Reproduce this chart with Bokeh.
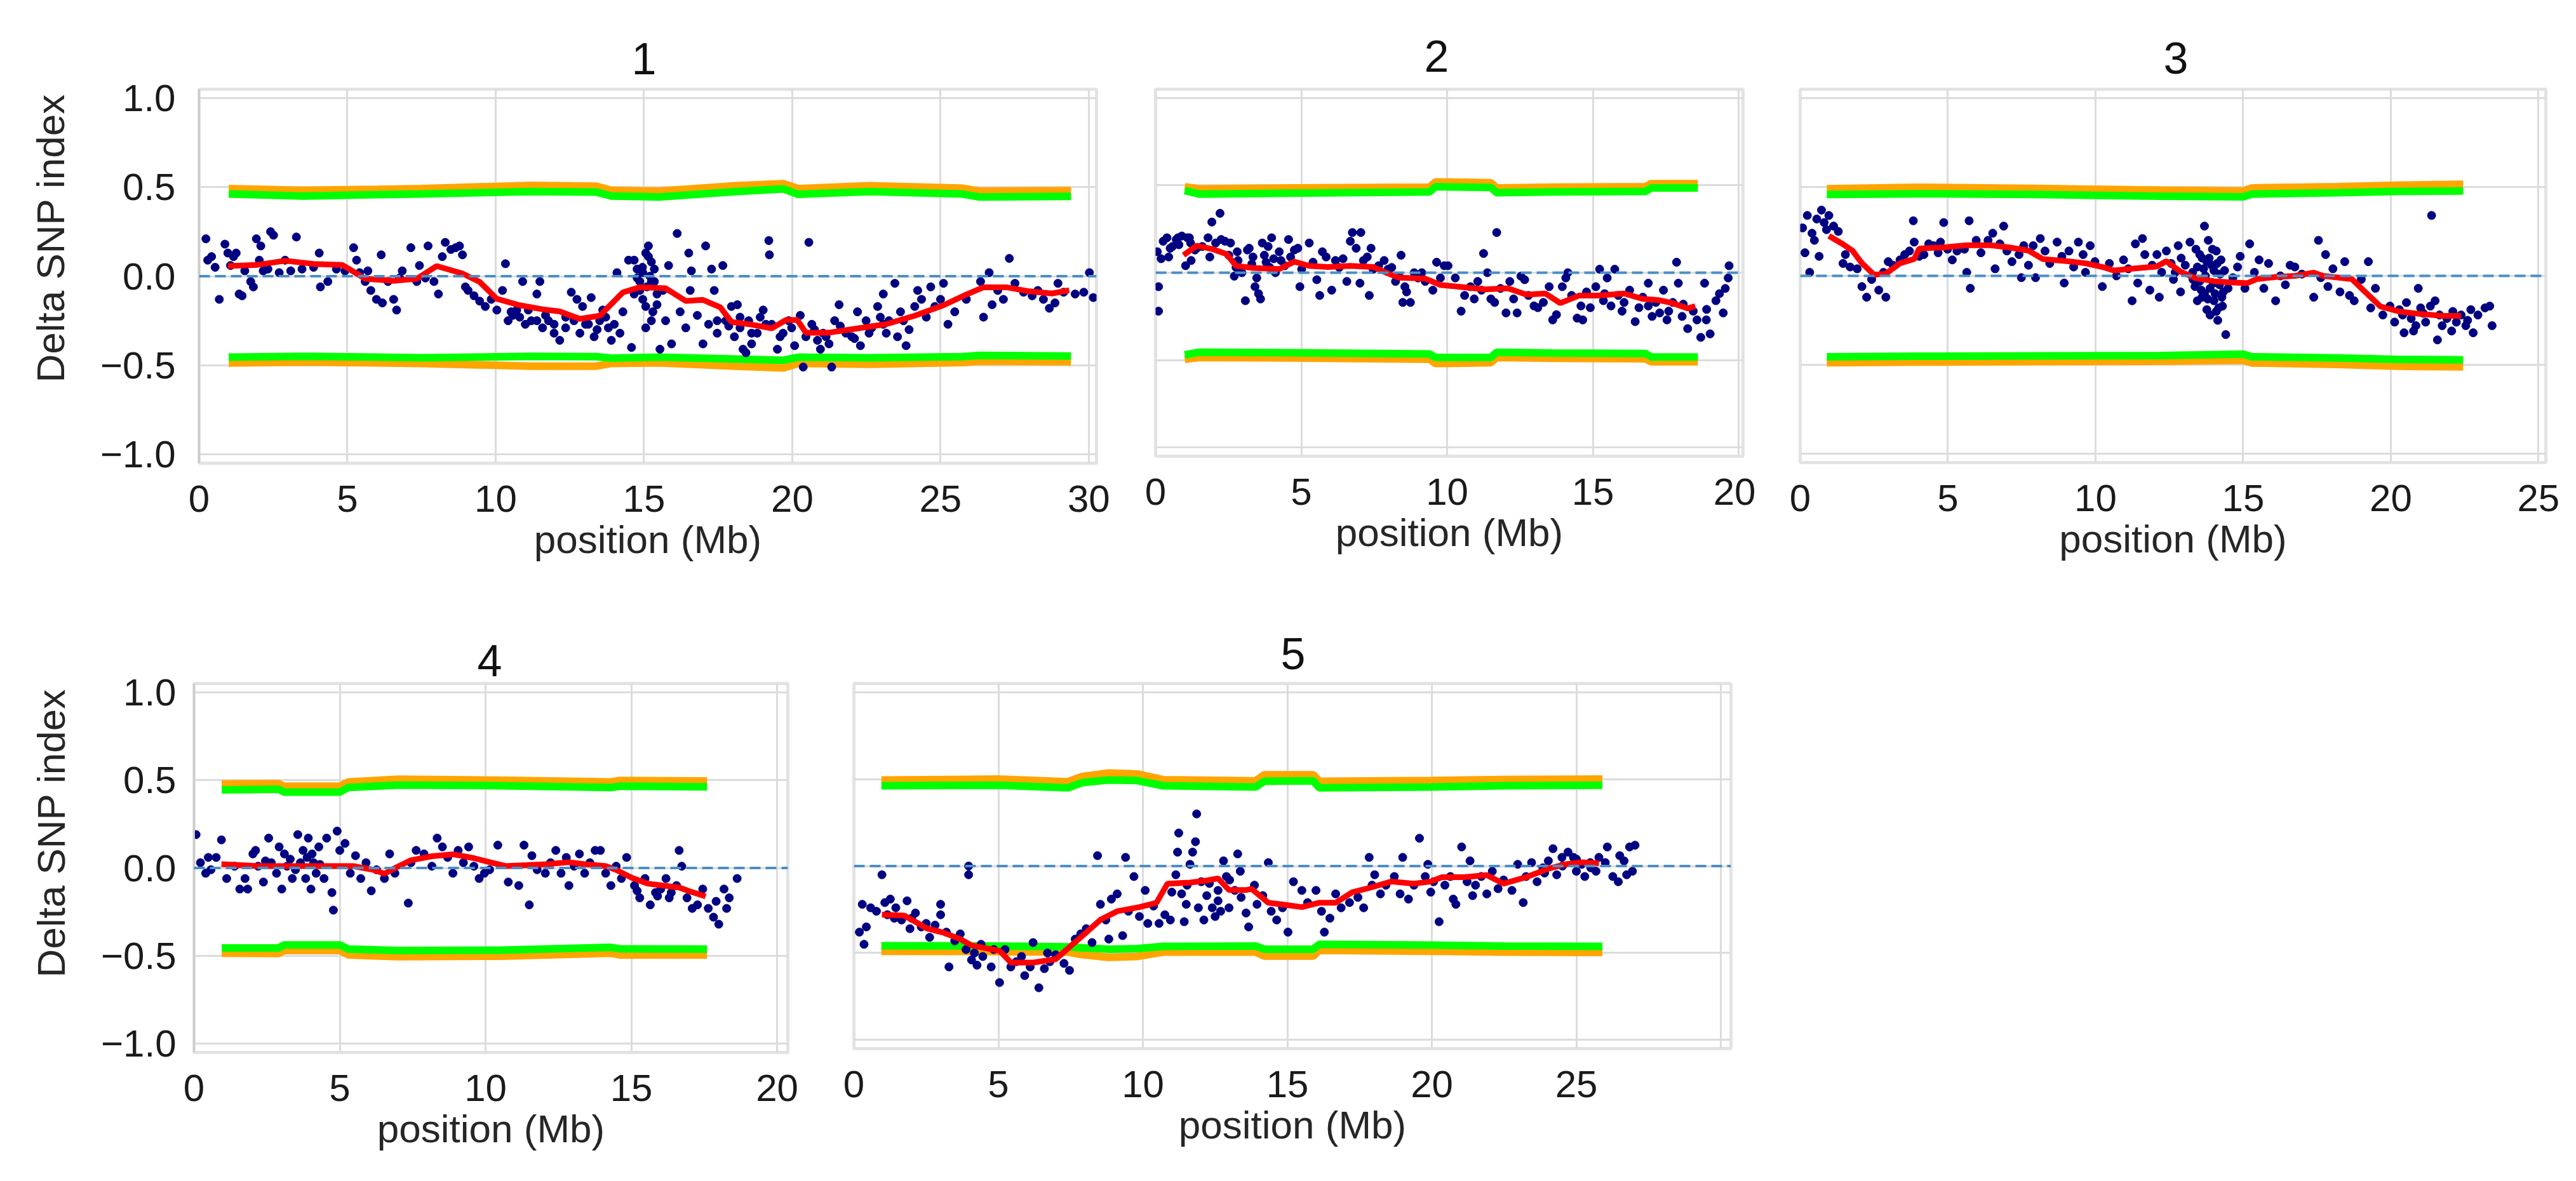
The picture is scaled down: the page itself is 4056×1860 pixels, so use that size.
# -*- coding: utf-8 -*-
# Delta SNP index along the five chromosomes, with 95% / 99% thresholds
from bokeh.plotting import figure
from bokeh.layouts import row, column
from bokeh.models import Span, FixedTicker, CustomJSTickFormatter, Title
from bokeh.embed import file_html
from bokeh.resources import INLINE

FONT = "Liberation Sans"

# ---------------- data: (position Mb, delta SNP index) ----------------
snp1 = [(0.23,0.21),(0.29,0.09),(0.42,0.11),(0.54,0.05),(0.68,-0.13),(0.87,0.18),(0.97,0.13),(1.06,0.06),
        (1.16,0.11),(1.25,0.13),(1.35,-0.10),(1.45,-0.11),(1.54,0.03),(1.74,-0.03),(1.83,-0.06),(1.93,0.21),
        (2.03,0.09),(2.08,0.17),(2.16,0.03),(2.32,0.04),(2.41,0.25),(2.51,0.23),(2.70,0.02),(2.90,0.09),
        (3.09,0.03),(3.28,0.22),(3.47,0.04),(3.86,0.05),(4.05,0.13),(4.09,-0.06),(4.34,-0.03),(4.63,0.04),
        (4.92,0.03),(5.21,0.16),(5.31,0.09),(5.41,0.02),(5.60,-0.03),(5.69,0.03),(5.79,-0.08),(5.98,-0.13),
        (6.14,0.12),(6.18,-0.15),(6.37,-0.03),(6.56,-0.13),(6.66,-0.19),(6.76,-0.01),(6.85,0.03),(7.14,0.16),
        (7.34,-0.03),(7.43,0.06),(7.63,-0.01),(7.72,0.17),(7.92,-0.03),(8.07,-0.10),(8.20,0.11),(8.30,0.19),
        (8.49,0.15),(8.65,0.16),(8.78,0.17),(8.88,0.12),(8.98,-0.06),(9.07,-0.08),(9.27,-0.11),(9.46,-0.14),
        (9.65,-0.17),(9.85,-0.13),(10.04,-0.19),(10.23,-0.08),(10.33,0.07),(10.42,-0.25),(10.58,-0.22),
        (10.71,-0.19),(10.91,-0.03),(11.00,-0.27),(11.20,-0.25),(11.39,-0.10),(11.49,-0.03),(11.58,-0.29),
        (11.78,-0.25),(11.97,-0.32),(12.16,-0.36),(12.36,-0.23),(12.55,-0.09),(12.74,-0.13),(12.84,-0.32),
        (12.93,-0.17),(13.03,-0.27),(13.22,-0.12),(13.32,-0.34),(13.51,-0.25),(13.61,-0.19),(13.80,-0.29),
        (13.90,-0.36),(14.09,0.02),(14.19,-0.32),(14.29,-0.20),(14.48,0.09),(14.58,-0.40),(14.67,-0.10),
        (14.77,0.04),(14.86,-0.03),(14.96,-0.13),(15.06,0.13),(15.15,0.17),(15.25,0.08),(15.35,-0.03),
        (15.44,-0.16),(15.54,-0.41),(15.64,-0.08),(15.73,-0.25),(15.83,0.06),(15.93,-0.38),(15.10,-0.06),
        (15.20,0.00),(14.95,0.05),(15.30,-0.20),(16.12,0.24),(16.22,-0.20),(16.41,-0.29),(16.51,0.13),
        (16.56,-0.08),(16.60,0.03),(16.80,-0.22),(16.99,-0.38),(17.08,0.17),(17.18,-0.27),(17.28,0.04),
        (17.37,-0.08),(17.47,-0.32),(17.66,0.06),(17.76,-0.25),(17.95,-0.17),(18.05,-0.34),(18.15,-0.16),
        (18.24,-0.29),(18.34,-0.41),(18.44,-0.43),(18.53,-0.25),(18.63,-0.38),(18.82,-0.32),(18.92,-0.23),
        (19.02,-0.19),(19.21,0.20),(19.23,0.12),(19.31,-0.27),(19.50,-0.41),(19.69,-0.32),(19.88,-0.25),
        (20.08,-0.39),(20.27,-0.22),(20.37,-0.51),(20.46,-0.34),(20.56,0.19),(20.66,-0.27),(20.85,-0.36),
        (20.95,-0.41),(21.04,-0.32),(21.24,-0.38),(21.33,-0.51),(21.43,-0.25),(21.58,-0.16),(21.81,-0.32),
        (22.01,-0.34),(22.20,-0.20),(22.30,-0.39),(22.49,-0.25),(22.68,-0.29),(22.88,-0.17),(22.97,-0.23),
        (23.07,-0.10),(23.17,-0.32),(23.26,-0.25),(23.46,-0.04),(23.55,-0.34),(23.65,-0.20),(23.84,-0.39),
        (23.94,-0.30),(24.13,-0.17),(24.23,-0.08),(24.36,-0.13),(24.52,-0.23),(24.67,-0.06),(24.81,-0.17),
        (25.00,-0.13),(25.10,-0.04),(25.25,-0.27),(25.48,-0.20),(25.87,-0.13),(26.35,-0.03),(26.45,-0.23),
        (26.64,0.02),(26.74,-0.16),(26.93,-0.08),(27.12,-0.13),(27.32,0.10),(27.51,-0.04),(27.80,-0.09),
        (28.09,-0.11),(28.28,-0.08),(28.47,-0.13),(28.67,-0.18),(28.86,-0.15),(28.96,-0.04),(29.15,-0.09),
        (29.54,-0.10),(29.83,-0.09),(30.02,0.02),(30.15,-0.12),
        (14.67,0.09),(14.77,-0.01),(14.86,-0.08),(14.96,0.02),(15.06,-0.17),(15.15,0.11),(15.25,-0.03),
        (15.35,0.04),(15.44,-0.10),(15.25,-0.25),(15.06,-0.29),(10.52,-0.20),(10.81,-0.23),(11.10,-0.19),
        (11.39,-0.25),(11.68,-0.22),(11.97,-0.27),(12.36,-0.29),(12.64,-0.25),(13.13,-0.27),(13.42,-0.30),
        (13.71,-0.23),(14.00,-0.27),(17.47,-0.25),(17.86,-0.28),(18.24,-0.23),(18.63,-0.32),(19.11,-0.27),
        (19.59,-0.34),(19.98,-0.29),(20.75,-0.30),(21.14,-0.34),(21.62,-0.28),(22.10,-0.35),(22.59,-0.32),
        (23.07,-0.27),(23.75,-0.25)]

snp2 = [(0.06,0.12),(0.10,-0.08),(0.10,-0.22),(0.19,0.08),(0.26,0.18),(0.39,0.20),(0.45,0.09),(0.58,0.15),
        (0.71,0.19),(0.77,0.20),(0.90,0.21),(1.03,0.04),(1.09,0.20),(1.16,0.20),(1.22,0.07),(1.35,0.13),
        (1.41,0.14),(1.80,0.20),(1.86,0.09),(1.93,0.29),(2.06,0.17),(2.21,0.34),(2.25,0.19),(2.38,0.18),
        (2.51,0.10),(2.57,0.17),(2.70,-0.02),(2.76,0.03),(2.83,0.07),(2.96,0.00),(3.08,-0.16),(3.15,0.13),
        (3.21,0.14),(3.34,0.09),(3.41,-0.08),(3.47,-0.03),(3.53,-0.12),(3.60,-0.15),(3.66,0.17),(3.73,0.10),
        (3.79,0.06),(3.86,0.15),(3.92,0.03),(3.98,0.20),(4.05,0.08),(4.11,0.00),(4.24,0.12),(4.43,0.04),
        (4.56,0.19),(4.63,0.09),(4.76,0.13),(4.88,0.14),(4.95,-0.08),(5.01,0.02),(5.27,0.17),(5.40,0.06),
        (5.53,-0.04),(5.63,-0.13),(5.72,0.12),(5.85,0.09),(6.04,-0.10),(6.17,0.07),(6.30,0.03),(6.43,0.08),
        (6.56,-0.05),(6.68,0.18),(6.75,0.23),(6.88,0.14),(7.01,-0.06),(7.04,0.23),(7.13,0.07),(7.26,0.09),
        (7.33,-0.13),(7.39,0.14),(7.46,0.02),(7.65,0.04),(7.84,0.07),(7.97,0.02),(8.10,0.03),(8.23,-0.05),
        (8.35,-0.02),(8.42,0.10),(8.48,-0.17),(8.55,-0.08),(8.61,-0.11),(8.74,-0.17),(8.87,0.00),(9.00,-0.03),
        (9.13,0.00),(9.25,-0.05),(9.51,-0.10),(9.64,0.06),(9.77,-0.03),(9.90,0.04),(10.03,0.04),(10.28,-0.03),
        (10.48,-0.22),(10.60,-0.13),(10.80,-0.08),(10.93,-0.15),(11.05,-0.05),(11.18,-0.10),(11.25,0.11),
        (11.38,0.00),(11.50,-0.15),(11.63,-0.17),(11.70,0.23),(11.83,-0.09),(12.02,-0.23),(12.15,-0.05),
        (12.28,-0.15),(12.40,-0.23),(12.53,-0.02),(12.66,-0.04),(12.79,-0.13),(12.98,-0.19),(13.11,-0.20),
        (13.30,-0.17),(13.50,-0.08),(13.62,-0.27),(13.75,-0.24),(13.95,-0.08),(14.07,-0.03),(14.14,0.00),
        (14.27,-0.13),(14.46,-0.26),(14.59,-0.19),(14.65,-0.27),(14.78,-0.11),(14.91,-0.20),(15.10,-0.08),
        (15.23,0.02),(15.36,-0.16),(15.49,-0.03),(15.62,-0.19),(15.75,0.02),(15.87,-0.13),(16.07,-0.17),
        (16.26,-0.10),(16.45,-0.28),(16.58,-0.20),(16.71,-0.14),(16.90,-0.06),(17.03,-0.25),(17.16,-0.17),
        (17.29,-0.23),(17.42,-0.10),(17.54,-0.27),(17.74,-0.17),(17.87,0.06),(17.93,-0.06),(18.06,-0.25),
        (18.25,-0.32),(18.44,-0.22),(18.57,-0.27),(18.70,-0.37),(18.83,-0.06),(18.89,-0.27),(19.02,-0.35),
        (19.22,-0.16),(19.34,-0.12),(19.47,-0.23),(19.54,-0.09),(19.64,-0.03),(19.67,0.04),
        (0.50,0.14),(0.80,0.16),(1.20,0.17),(1.60,0.15),(2.80,0.12),(3.30,0.05),(4.30,0.07),(15.40,-0.12),
        (16.00,-0.22),(16.90,-0.19),(17.60,-0.22),(18.10,-0.18),(18.90,-0.21)]

snp3 = [(0.08,0.27),(0.16,0.13),(0.24,0.34),(0.32,0.02),(0.40,0.24),(0.48,0.20),(0.56,0.32),(0.64,0.11),
        (0.72,0.37),(0.81,0.30),(0.89,0.26),(0.97,0.34),(1.13,0.28),(1.29,0.25),(1.45,0.07),(1.53,0.12),
        (1.69,0.05),(1.93,0.04),(2.09,-0.06),(2.25,-0.12),(2.42,-0.02),(2.66,-0.08),(2.82,0.02),(2.90,-0.12),
        (2.98,0.08),(3.14,0.06),(3.38,0.09),(3.54,0.12),(3.70,0.14),(3.83,0.31),(3.86,0.19),(4.03,0.11),
        (4.19,0.12),(4.35,0.18),(4.51,0.17),(4.67,0.13),(4.75,0.19),(4.86,0.30),(4.99,0.15),(5.15,0.09),
        (5.31,0.14),(5.56,0.15),(5.64,0.02),(5.72,0.31),(5.76,-0.07),(5.96,0.20),(6.12,0.13),(6.36,0.20),
        (6.52,0.24),(6.60,0.04),(6.76,0.18),(6.89,0.28),(7.00,0.14),(7.17,0.08),(7.41,0.12),(7.49,-0.01),
        (7.57,0.17),(7.73,0.06),(7.89,0.17),(7.97,-0.01),(8.13,0.21),(8.29,0.14),(8.45,0.07),(8.70,0.19),
        (8.86,0.11),(8.94,-0.04),(9.10,0.14),(9.26,0.05),(9.42,0.19),(9.58,0.12),(9.66,0.02),(9.82,0.17),
        (9.98,0.08),(10.23,-0.06),(10.47,0.07),(10.71,0.00),(10.95,0.09),(11.11,0.04),(11.24,-0.14),
        (11.35,0.18),(11.43,-0.04),(11.59,0.21),(11.67,0.12),(11.84,-0.08),(11.92,0.06),(12.08,0.12),
        (12.16,-0.12),(12.24,0.02),(12.40,0.14),(12.56,0.07),(12.64,-0.02),(12.80,0.17),(12.88,-0.09),
        (13.04,0.06),(13.20,0.19),(13.29,0.02),(13.37,-0.06),(13.45,-0.14),(13.53,0.12),(13.61,-0.12),
        (13.69,0.28),(13.72,0.00),(13.77,-0.19),(13.82,0.20),(13.88,-0.07),(13.93,0.06),(14.01,-0.14),
        (14.09,0.14),(14.17,-0.18),(14.20,-0.05),(14.25,0.09),(14.33,-0.09),(14.41,-0.33),(14.49,-0.07),
        (14.65,-0.01),(14.81,0.05),(14.90,0.11),(15.06,-0.07),(14.14,-0.25),(13.45,0.05),(13.53,-0.03),
        (13.61,0.10),(13.77,0.08),(13.88,-0.22),(14.01,0.03),(14.09,-0.20),(13.69,-0.10),(13.96,0.15),
        (14.28,-0.12),(15.22,0.18),(15.38,0.02),(15.54,0.09),(15.70,-0.07),(15.86,0.07),(16.10,-0.14),
        (16.26,0.00),(16.43,-0.05),(16.59,0.06),(16.75,0.05),(16.99,0.01),(17.39,-0.12),(17.55,0.20),
        (17.63,-0.01),(17.79,0.12),(17.87,-0.06),(18.04,0.04),(18.28,-0.09),(18.44,0.08),(18.60,-0.11),
        (18.76,-0.14),(19.00,-0.02),(19.24,0.08),(19.32,-0.18),(19.48,-0.07),(19.73,-0.22),(19.97,-0.17),
        (20.13,-0.26),(20.29,-0.19),(20.45,-0.32),(20.53,-0.15),(20.69,-0.24),(20.77,-0.31),(20.93,-0.07),
        (21.01,-0.18),(21.18,-0.26),(21.34,-0.17),(21.38,0.34),(21.50,-0.14),(21.58,-0.36),(21.74,-0.28),
        (21.90,-0.24),(22.06,-0.31),(22.22,-0.26),(22.38,-0.22),(22.54,-0.28),(22.71,-0.19),(22.79,-0.32),
        (22.95,-0.22),(23.19,-0.18),(23.35,-0.17),(23.43,-0.28),
        (13.30,-0.02),(13.40,0.15),(13.58,-0.08),(13.66,0.04),(13.80,-0.13),(13.85,0.10),(13.99,-0.04),
        (14.05,-0.10),(14.12,0.07),(14.22,0.01),(14.30,-0.17),(14.37,0.03),(12.90,0.10),(12.70,0.02),
        (20.40,-0.22),(20.85,-0.28),(21.10,-0.21),(21.65,-0.22),(22.10,-0.20),(22.60,-0.25)]

snp4 = [(0.07,0.19),(0.22,0.03),(0.40,-0.03),(0.49,0.06),(0.58,-0.01),(0.76,0.06),(0.94,0.16),(1.12,-0.06),
        (1.39,0.01),(1.57,-0.12),(1.75,-0.06),(1.84,-0.12),(2.02,0.08),(2.11,0.10),(2.20,0.01),(2.38,-0.08),
        (2.56,0.17),(2.65,0.03),(2.83,-0.03),(2.92,0.12),(3.01,-0.12),(3.10,0.08),(3.19,0.01),(3.37,-0.06),
        (3.56,0.19),(3.65,0.03),(3.74,0.10),(3.83,-0.06),(3.92,0.17),(4.01,-0.12),(4.10,0.03),(4.19,-0.03),
        (4.28,0.12),(4.46,-0.06),(4.55,0.17),(4.73,-0.14),(4.78,-0.24),(4.91,0.21),(5.00,0.10),(5.18,0.14),
        (5.36,-0.03),(5.54,0.07),(5.72,-0.06),(5.90,0.03),(6.08,-0.13),(6.26,-0.01),(6.53,-0.06),(6.71,0.08),
        (6.89,-0.03),(7.35,-0.20),(7.44,0.03),(7.62,0.10),(7.89,0.08),(8.16,0.01),(8.34,0.17),(8.52,0.12),
        (8.70,0.06),(8.88,-0.03),(9.06,0.10),(9.24,0.03),(9.42,0.12),(9.60,0.01),(9.78,-0.06),(9.96,-0.03),
        (10.14,-0.01),(10.42,0.13),(10.78,-0.08),(11.14,-0.10),(11.32,0.13),(11.50,-0.21),(11.59,0.07),
        (11.77,-0.01),(12.05,-0.03),(12.23,0.03),(12.41,0.10),(12.59,-0.03),(12.77,0.06),(12.86,-0.10),
        (13.04,0.01),(13.22,0.08),(13.40,-0.03),(13.58,0.03),(13.76,0.10),(13.94,0.10),(14.12,-0.03),
        (14.30,-0.10),(14.48,0.01),(14.66,-0.06),(14.84,0.06),(15.11,-0.10),(15.29,-0.17),(15.47,-0.06),
        (15.65,-0.21),(15.83,-0.14),(16.01,-0.12),(16.19,-0.06),(16.37,-0.14),(16.55,-0.10),(16.64,0.10),
        (16.73,0.01),(16.91,-0.17),(17.09,-0.23),(17.27,-0.21),(17.45,-0.12),(17.64,-0.23),(17.82,-0.28),
        (17.91,-0.19),(18.00,-0.32),(18.18,-0.12),(18.27,-0.23),(18.36,-0.17),(18.63,-0.06),
        (3.30,0.05),(3.48,-0.01),(3.88,0.06),(4.05,0.08),(4.32,0.02),(2.45,0.04),(15.20,-0.13),(15.90,-0.16),
        (16.30,-0.17)]

snp5 = [(0.19,-0.38),(0.29,-0.22),(0.35,-0.45),(0.43,-0.35),(0.58,-0.24),(0.78,-0.26),(0.97,-0.05),
        (1.07,-0.21),(1.16,-0.28),(1.26,-0.19),(1.45,-0.24),(1.65,-0.31),(1.84,-0.20),(1.94,-0.36),
        (2.13,-0.27),(2.33,-0.35),(2.62,-0.41),(2.81,-0.34),(3.00,-0.22),(3.00,-0.28),(3.20,-0.38),
        (3.29,-0.58),(3.49,-0.43),(3.68,-0.39),(3.88,-0.48),(4.07,-0.54),(4.17,-0.50),(4.26,-0.57),
        (4.46,-0.52),(4.75,-0.58),(4.84,-0.48),(3.97,0.00),(3.97,-0.05),(5.04,-0.67),(5.23,-0.48),(5.43,-0.58),
        (5.62,-0.55),(5.91,-0.63),(6.10,-0.58),(6.20,-0.44),(6.40,-0.70),(6.59,-0.59),(6.78,-0.55),
        (6.98,-0.51),(7.27,-0.56),(7.46,-0.60),(7.66,-0.42),(7.85,-0.39),(8.04,-0.36),(8.24,-0.44),
        (8.43,0.06),(8.53,-0.22),(8.72,-0.31),(8.82,-0.42),(8.91,-0.19),(9.11,-0.16),(9.30,-0.40),(9.40,0.05),
        (9.50,-0.26),(9.69,-0.06),(9.88,-0.29),(10.08,-0.14),(10.17,-0.33),(10.37,-0.23),(10.56,-0.33),
        (10.76,-0.28),(10.95,-0.31),(11.14,-0.05),(11.20,0.08),(11.24,0.19),(11.34,-0.16),(11.43,-0.32),
        (11.53,-0.11),(11.63,0.01),(11.72,0.08),(11.82,0.14),(11.86,0.30),(11.92,-0.24),(12.02,-0.09),
        (12.11,-0.31),(12.21,-0.17),(12.40,-0.24),(12.50,-0.29),(12.60,-0.14),(12.69,-0.26),(12.79,0.03),
        (12.89,-0.06),(12.98,-0.24),(13.18,-0.14),(13.28,0.07),(13.37,-0.03),(13.57,-0.27),(13.66,-0.35),
        (13.86,-0.11),(13.95,-0.22),(14.15,-0.17),(14.34,0.02),(14.44,-0.26),(14.63,-0.31),(14.83,-0.24),
        (15.02,-0.38),(15.21,-0.09),(15.50,-0.14),(15.70,-0.21),(15.99,-0.14),(16.18,-0.26),(16.28,-0.38),
        (16.47,-0.30),(16.67,-0.16),(16.86,-0.24),(17.15,-0.21),(17.44,-0.18),(17.64,-0.24),(17.83,0.05),
        (17.93,-0.11),(18.02,-0.05),(18.22,-0.16),(18.41,-0.11),(18.70,-0.06),(18.90,-0.16),(18.99,0.05),
        (19.19,-0.19),(19.38,-0.11),(19.57,0.16),(19.77,-0.06),(19.86,0.01),(19.96,-0.15),(20.06,-0.09),
        (20.25,-0.32),(20.45,-0.11),(20.64,-0.06),(20.74,-0.19),(20.83,-0.22),(21.03,0.11),(21.22,-0.09),
        (21.32,0.03),(21.41,-0.17),(21.51,-0.11),(21.71,-0.06),(21.90,-0.16),(22.09,-0.03),(22.29,-0.13),
        (22.48,-0.08),(22.77,-0.14),(22.97,0.01),(23.16,-0.21),(23.26,-0.06),(23.45,0.02),(23.64,-0.09),
        (23.84,-0.01),(24.03,0.03),(24.19,0.10),(24.32,-0.05),(24.52,0.00),(24.71,0.08),(24.90,0.05),
        (25.00,-0.03),(25.19,0.01),(25.29,-0.06),(25.48,0.02),(25.68,-0.03),(25.78,0.05),(26.07,0.11),
        (26.26,-0.06),(26.45,-0.09),(26.65,0.03),(26.84,0.11),(26.94,-0.03),(27.03,0.12),(26.74,-0.05),
        (11.00,-0.15),(11.50,-0.22),(12.30,-0.10),(12.60,-0.20),(13.00,-0.08),(13.40,-0.18),(23.90,-0.04),
        (24.50,0.05),(25.00,0.04),(25.50,-0.01),(26.00,0.02),(26.50,0.06),(1.40,-0.30),(2.00,-0.30),
        (2.50,-0.33),(4.40,-0.45),(5.80,-0.52),(6.70,-0.50)]

# ---------------- smoothed delta SNP index (red line) ----------------
smooth1 = [(0.97,0.057),(1.93,0.063),(2.90,0.087),(3.86,0.069),(4.83,0.063),(5.60,-0.014),(6.56,-0.026),
           (7.34,-0.014),(8.01,0.057),(8.88,0.015),(9.46,-0.032),(10.04,-0.127),(10.81,-0.163),(11.58,-0.186),
           (12.16,-0.198),(12.84,-0.240),(13.51,-0.222),(14.29,-0.091),(14.86,-0.062),(15.73,-0.068),
           (16.41,-0.139),(16.99,-0.133),(17.57,-0.174),(17.95,-0.257),(18.53,-0.269),(19.31,-0.293),
           (19.79,-0.246),(20.17,-0.246),(20.46,-0.317),(21.24,-0.317),(22.20,-0.293),(23.17,-0.269),
           (24.13,-0.222),(25.10,-0.163),(25.87,-0.103),(26.45,-0.062),(27.22,-0.062),(27.99,-0.085),
           (28.76,-0.097),(29.34,-0.079)]
smooth2 = [(0.96,0.100),(1.41,0.155),(1.93,0.136),(2.44,0.106),(2.76,0.039),(3.34,0.027),(4.24,0.021),
           (4.76,0.063),(5.27,0.039),(5.91,0.033),(6.68,0.039),(7.46,0.033),(7.97,-0.004),(8.35,-0.028),
           (9.25,-0.034),(9.77,-0.070),(10.54,-0.083),(11.31,-0.095),(12.08,-0.089),(12.72,-0.125),
           (13.37,-0.119),(13.88,-0.174),(14.52,-0.131),(15.17,-0.131),(16.07,-0.119),(16.71,-0.150),
           (17.22,-0.156),(17.74,-0.174),(18.25,-0.204),(18.51,-0.192)]
smooth3 = [(0.97,0.225),(1.45,0.178),(1.77,0.142),(2.09,0.071),(2.50,0.006),(2.90,0.012),(3.38,0.071),
           (3.86,0.095),(4.03,0.154),(4.83,0.160),(5.64,0.172),(6.44,0.172),(7.09,0.160),(7.73,0.142),
           (8.21,0.095),(9.02,0.083),(9.66,0.071),(10.31,0.047),(10.63,0.030),(11.27,0.041),(12.08,0.053),
           (12.40,0.083),(12.88,0.024),(13.37,-0.012),(14.01,-0.030),(14.49,-0.036),(15.14,-0.041),
           (15.46,-0.018),(16.10,-0.006),(16.75,0.000),(17.39,0.018),(17.71,0.000),(18.68,-0.018),
           (19.16,-0.095),(19.65,-0.172),(20.29,-0.201),(20.93,-0.213),(21.74,-0.225),(22.38,-0.225)]
smooth4 = [(0.94,0.022),(2.20,0.011),(3.29,0.011),(4.37,0.011),(5.45,0.011),(6.17,-0.011),(6.53,-0.033),
           (6.90,0.000),(7.44,0.044),(8.16,0.067),(8.88,0.078),(9.60,0.056),(10.14,0.033),(10.69,0.011),
           (11.41,0.016),(12.13,0.022),(12.85,0.033),(13.39,0.022),(14.12,0.011),(14.48,-0.011),
           (15.02,-0.056),(15.56,-0.089),(16.10,-0.100),(16.64,-0.111),(17.00,-0.133),(17.55,-0.162)]
smooth5 = [(0.97,-0.279),(1.74,-0.285),(2.13,-0.321),(2.52,-0.358),(3.10,-0.383),(3.68,-0.420),
           (4.07,-0.456),(4.65,-0.475),(5.04,-0.487),(5.43,-0.555),(6.20,-0.555),(6.98,-0.536),(7.36,-0.481),
           (7.95,-0.395),(8.53,-0.309),(9.11,-0.260),(9.88,-0.236),(10.47,-0.211),(10.85,-0.101),
           (11.63,-0.095),(12.21,-0.083),(12.60,-0.071),(12.98,-0.138),(13.57,-0.138),(13.76,-0.131),
           (14.34,-0.211),(14.92,-0.223),(15.50,-0.236),(16.09,-0.211),(16.67,-0.211),(17.25,-0.150),
           (17.83,-0.126),(18.60,-0.089),(19.38,-0.101),(19.96,-0.089),(20.35,-0.064),(21.12,-0.064),
           (21.90,-0.052),(22.48,-0.101),(23.26,-0.064),(24.03,-0.015),(24.61,0.010),(25.19,0.022),(25.78,0.016)]

# ---------------- thresholds: green = 95%, orange = 99% ----------------
thr1_x  = [1.0, 3.5, 6.0, 7.5, 11.2, 13.4, 13.9, 15.5, 18.1, 19.7, 20.2, 22.6, 25.7, 26.3, 29.4]
g1_up   = [0.462, 0.450, 0.458, 0.462, 0.475, 0.472, 0.450, 0.445, 0.475, 0.490, 0.460, 0.475, 0.462, 0.445, 0.448]
o1_up   = [0.492, 0.482, 0.488, 0.492, 0.510, 0.505, 0.482, 0.478, 0.508, 0.520, 0.492, 0.508, 0.495, 0.478, 0.480]
g1_lo   = [-0.455, -0.450, -0.455, -0.458, -0.450, -0.452, -0.460, -0.455, -0.465, -0.472, -0.455, -0.458, -0.452, -0.445, -0.448]
o1_lo   = [-0.488, -0.482, -0.487, -0.490, -0.505, -0.505, -0.490, -0.487, -0.505, -0.515, -0.490, -0.495, -0.485, -0.478, -0.480]

thr2_x  = [1.0, 1.5, 4.6, 9.4, 9.6, 11.5, 11.7, 13.6, 16.8, 17.0, 18.6]
g2_up   = [0.470, 0.450, 0.455, 0.462, 0.492, 0.488, 0.458, 0.462, 0.465, 0.485, 0.485]
o2_up   = [0.492, 0.480, 0.485, 0.490, 0.520, 0.515, 0.485, 0.490, 0.492, 0.510, 0.510]
g2_lo   = [-0.470, -0.455, -0.458, -0.465, -0.485, -0.485, -0.455, -0.460, -0.462, -0.482, -0.482]
o2_lo   = [-0.495, -0.485, -0.488, -0.495, -0.520, -0.515, -0.485, -0.490, -0.492, -0.510, -0.510]

thr3_x  = [0.9, 4.0, 8.0, 12.2, 15.0, 15.3, 18.2, 20.2, 22.45]
g3_up   = [0.458, 0.462, 0.458, 0.448, 0.445, 0.460, 0.468, 0.475, 0.478]
o3_up   = [0.490, 0.498, 0.492, 0.482, 0.478, 0.495, 0.502, 0.510, 0.515]
g3_lo   = [-0.455, -0.452, -0.450, -0.448, -0.440, -0.455, -0.462, -0.470, -0.472]
o3_lo   = [-0.488, -0.485, -0.482, -0.480, -0.475, -0.490, -0.498, -0.508, -0.512]

thr4_x  = [0.95, 2.9, 3.1, 5.0, 5.3, 7.0, 10.5, 14.3, 14.6, 17.6]
g4_up   = [0.445, 0.448, 0.432, 0.432, 0.458, 0.472, 0.468, 0.458, 0.465, 0.462]
o4_up   = [0.478, 0.480, 0.465, 0.465, 0.490, 0.505, 0.500, 0.490, 0.498, 0.495]
g4_lo   = [-0.455, -0.455, -0.438, -0.438, -0.462, -0.470, -0.468, -0.452, -0.460, -0.462]
o4_lo   = [-0.485, -0.487, -0.470, -0.470, -0.495, -0.505, -0.502, -0.485, -0.495, -0.495]

thr5_x  = [0.95, 5.0, 7.4, 7.9, 8.8, 9.8, 10.7, 13.9, 14.2, 15.9, 16.1, 20.0, 22.5, 25.9]
g5_up   = [0.462, 0.465, 0.450, 0.480, 0.495, 0.492, 0.462, 0.455, 0.488, 0.490, 0.450, 0.455, 0.462, 0.465]
o5_up   = [0.495, 0.500, 0.485, 0.515, 0.535, 0.530, 0.497, 0.490, 0.525, 0.525, 0.488, 0.492, 0.498, 0.500]
g5_lo   = [-0.458, -0.460, -0.465, -0.470, -0.478, -0.475, -0.462, -0.460, -0.478, -0.478, -0.450, -0.455, -0.460, -0.462]
o5_lo   = [-0.490, -0.492, -0.495, -0.510, -0.525, -0.520, -0.495, -0.495, -0.518, -0.518, -0.485, -0.490, -0.495, -0.497]

chrom_names = ["1", "2", "3", "4", "5"]
chrom_len = [30.26, 20.15, 25.25, 20.37, 30.35]
y_ticks = [-1.0, -0.5, 0.0, 0.5, 1.0]


def make_panel(name, xmax, snps, smooth, thr_x, g_up, o_up, g_lo, o_lo,
               fw, fh, bl, br, bt, bb, t_offset, t_standoff,
               show_y=False, y_offset=0, y_standoff=32, hide_last=False):
    p = figure(frame_width=fw, frame_height=fh,
               x_range=(0, xmax), y_range=(-1.05, 1.05),
               min_border_left=bl, min_border_right=br,
               min_border_top=bt, min_border_bottom=bb,
               output_backend="svg", toolbar_location=None)
    p.background_fill_color = "white"
    p.border_fill_color = "white"
    p.outline_line_color = "#e3e3e3"
    p.outline_line_width = 5

    # chromosome title above the frame
    p.add_layout(Title(text=name, align="left", offset=t_offset, standoff=t_standoff,
                       text_font=FONT, text_font_size="70px", text_font_style="normal",
                       text_color="#111111"), "above")

    xt = list(range(0, int(xmax) + 1, 5))
    p.xaxis.ticker = FixedTicker(ticks=xt)
    if hide_last:
        p.xaxis.major_label_overrides = {xt[-1]: ""}
    p.xaxis.axis_label = "position (Mb)"
    p.xaxis.axis_label_text_font = FONT
    p.xaxis.axis_label_text_font_size = "62px"
    p.xaxis.axis_label_text_font_style = "normal"
    p.xaxis.axis_label_text_color = "#262626"
    p.xaxis.axis_label_standoff = 6
    p.xaxis.major_label_text_font = FONT
    p.xaxis.major_label_text_font_size = "60px"
    p.xaxis.major_label_text_color = "#1a1a1a"
    p.xaxis.major_label_standoff = 29
    p.xaxis.major_tick_line_color = None
    p.xaxis.minor_tick_line_color = None
    p.xaxis.axis_line_color = None

    p.yaxis.ticker = FixedTicker(ticks=y_ticks)
    p.ygrid.ticker = FixedTicker(ticks=y_ticks)
    p.xgrid.ticker = FixedTicker(ticks=xt)
    if show_y:
        p.yaxis.formatter = CustomJSTickFormatter(code="return tick.toFixed(1).replace('-', '\\u2212')")
        p.yaxis.major_label_text_font = FONT
        p.yaxis.major_label_text_font_size = "60px"
        p.yaxis.major_label_text_color = "#1a1a1a"
        p.yaxis.major_label_standoff = y_standoff
        p.yaxis.major_tick_line_color = None
        p.yaxis.minor_tick_line_color = None
        p.yaxis.axis_line_color = "#cccccc"
        p.yaxis.axis_line_width = 3
        p.add_layout(Title(text="Delta SNP index", align="left", offset=y_offset,
                           text_font=FONT, text_font_size="62px", text_font_style="normal",
                           text_color="#262626", standoff=84), "left")
    else:
        p.yaxis.visible = False

    p.grid.grid_line_color = "#dcdcdc"
    p.grid.grid_line_width = 3

    # thresholds
    p.line(thr_x, o_up, line_color="#ffa500", line_width=12)
    p.line(thr_x, g_up, line_color="#00ff00", line_width=12)
    p.line(thr_x, o_lo, line_color="#ffa500", line_width=12)
    p.line(thr_x, g_lo, line_color="#00ff00", line_width=12)

    xs = [a for a, b in snps]
    ys = [b for a, b in snps]
    p.scatter(xs, ys, size=13, fill_color="#000080", line_color="#000080")

    p.add_layout(Span(location=0, dimension="width", line_color="#4b8ec6",
                      line_width=4, line_dash="17 8"))

    sx = [a for a, b in smooth]
    sy = [b for a, b in smooth]
    p.line(sx, sy, line_color="#ff0000", line_width=9)
    return p


f1 = make_panel(chrom_names[0], chrom_len[0], snp1, smooth1, thr1_x, g1_up, o1_up, g1_lo, o1_lo,
                1413, 589, 309, 40, 133, 200, 681, 48, show_y=True, y_offset=127, y_standoff=31)
f2 = make_panel(chrom_names[1], chrom_len[1], snp2, smooth2, thr2_x, g2_up, o2_up, g2_lo, o2_lo,
                925, 578, 53, 20, 140, 204, 423, 56)
f3 = make_panel(chrom_names[2], chrom_len[2], snp3, smooth3, thr3_x, g3_up, o3_up, g3_lo, o3_lo,
                1174, 588, 70, 30, 134, 200, 572, 50)
f4 = make_panel(chrom_names[3], chrom_len[3], snp4, smooth4, thr4_x, g4_up, o4_up, g4_lo, o4_lo,
                935, 581, 305, 40, 154, 184, 446, 24, show_y=True, y_offset=118, y_standoff=22)
f5 = make_panel(chrom_names[4], chrom_len[4], snp5, smooth5, thr5_x, g5_up, o5_up, g5_lo, o5_lo,
                1381, 575, 64, 30, 152, 192, 672, 46, hide_last=True)

p = column(row(f1, f2, f3), row(f4, f5))

open("out.html", "w").write(file_html(p, INLINE))
